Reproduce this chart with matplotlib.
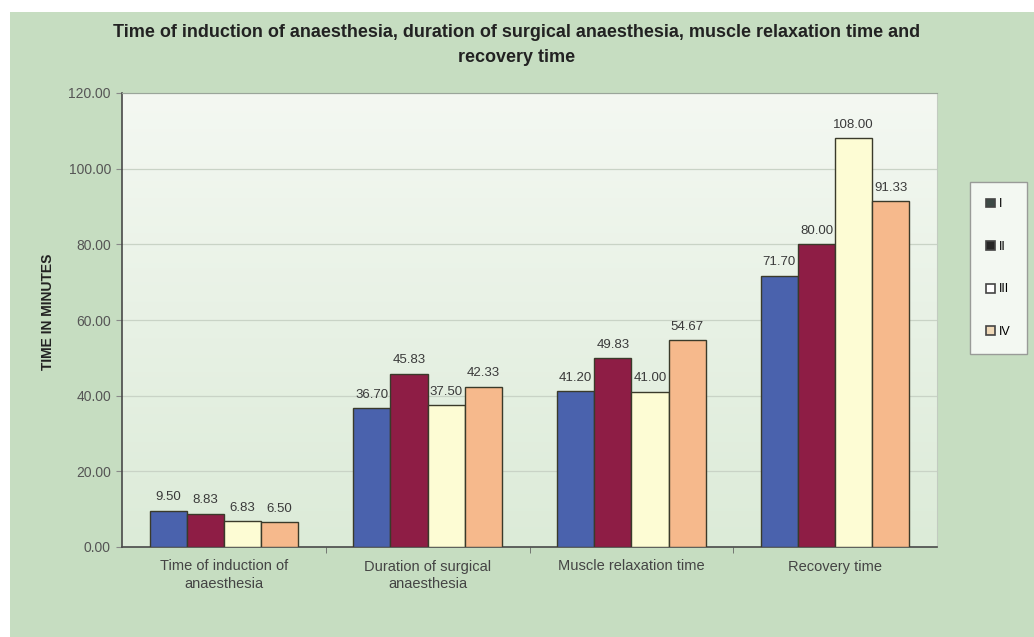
import numpy as np
import matplotlib
matplotlib.use("Agg")
import matplotlib.pyplot as plt
from matplotlib.patches import Rectangle, Patch
from matplotlib.colors import LinearSegmentedColormap

categories = ["Time of induction of\nanaesthesia", "Duration of surgical\nanaesthesia",
              "Muscle relaxation time", "Recovery time"]
series_names = ["I", "II", "III", "IV"]
values_I = [9.50, 36.70, 41.20, 71.70]
values_II = [8.83, 45.83, 49.83, 80.00]
values_III = [6.83, 37.50, 41.00, 108.00]
values_IV = [6.50, 42.33, 54.67, 91.33]
yticks = [0, 20, 40, 60, 80, 100, 120]

series = [values_I, values_II, values_III, values_IV]
bar_colors = ["#4a62ad", "#8e1d45", "#fdfcd4", "#f6b98c"]
legend_colors = ["#3c4a46", "#262626", "#ffffff", "#efd9b8"]

plt.rcParams["font.family"] = ["Liberation Sans", "DejaVu Sans"]

fig = plt.figure(figsize=(10.34, 6.37), dpi=100)
fig.patch.set_facecolor("white")
# green chart area
fig.patches.append(Rectangle((10 / 1034, 0), 1 - 10 / 1034, 1 - 12 / 637,
                             transform=fig.transFigure, facecolor="#c6ddc1",
                             edgecolor="none", zorder=-5))

ax = fig.add_axes([122 / 1034, 1 - 547 / 637, (937 - 122) / 1034, (547 - 93) / 637])
ax.set_facecolor("none")
# soft vertical gradient for the plotting area (lighter at the top)
grad = np.linspace(0, 1, 256).reshape(-1, 1)
cmap = LinearSegmentedColormap.from_list("bg", ["#dcebd8", "#f4f8f2"])
ax.imshow(grad, aspect="auto", cmap=cmap, extent=[-0.5, 3.5, 0, 120],
          zorder=0, origin="lower")

n = len(series)
group_w = 0.73
w = group_w / n
x = np.arange(len(categories))
for i, vals in enumerate(series):
    pos = x - group_w / 2 + w * (i + 0.5)
    bars = ax.bar(pos, vals, width=w, color=bar_colors[i], edgecolor="#3a3a2a",
                  linewidth=1.0, zorder=3)
    for b, v in zip(bars, vals):
        ax.text(b.get_x() + b.get_width() / 2, v + 2.0, f"{v:.2f}",
                ha="center", va="bottom", fontsize=9.5, color="#3a3a3a", zorder=4)

ax.set_xlim(-0.5, 3.5)
ax.set_ylim(0, 120)
ax.set_yticks(yticks)
ax.set_yticklabels([f"{t:.2f}" for t in yticks], fontsize=10, color="#555555")
ax.yaxis.grid(True, color="#c9d3c6", linewidth=0.9, zorder=1)
ax.set_axisbelow(True)

ax.set_xticks(x)
ax.set_xticklabels(categories, fontsize=10.5, color="#444444", linespacing=1.3)
ax.tick_params(axis="x", length=0, pad=9)
ax.set_xticks([0.5, 1.5, 2.5], minor=True)
ax.tick_params(axis="x", which="minor", length=4, color="#666666")
ax.tick_params(axis="y", length=4, color="#888888", pad=4)

for s in ["left", "bottom"]:
    ax.spines[s].set_color("#4a4a4a")
    ax.spines[s].set_linewidth(1.2)
ax.spines["top"].set_color("#9aa59a")
ax.spines["right"].set_color("#c2cbc0")

ax.set_ylabel("TIME IN MINUTES", fontsize=10, fontweight="bold", color="#222222")
ax.yaxis.set_label_coords(-0.082, 0.518)

fig.text(0.5, 1 - 45 / 637,
         "Time of induction of anaesthesia, duration of surgical anaesthesia, muscle relaxation time and\nrecovery time",
         ha="center", va="center", fontsize=13, fontweight="bold", color="#222222",
         linespacing=1.55)

handles = [Patch(facecolor=c, edgecolor="#444444", linewidth=1.2) for c in legend_colors]
leg = fig.legend(handles, series_names, loc="upper left",
                 bbox_to_anchor=(970 / 1034, 1 - 182 / 637), frameon=True,
                 fontsize=9, handlelength=0.7, handleheight=0.7,
                 handletextpad=0.3, labelspacing=2.45, borderpad=1.3,
                 borderaxespad=0, fancybox=False, edgecolor="#888888")
leg.get_frame().set_facecolor("white")
leg.get_frame().set_linewidth(1.0)

fig.savefig("out.png", dpi=100, facecolor=fig.get_facecolor())
